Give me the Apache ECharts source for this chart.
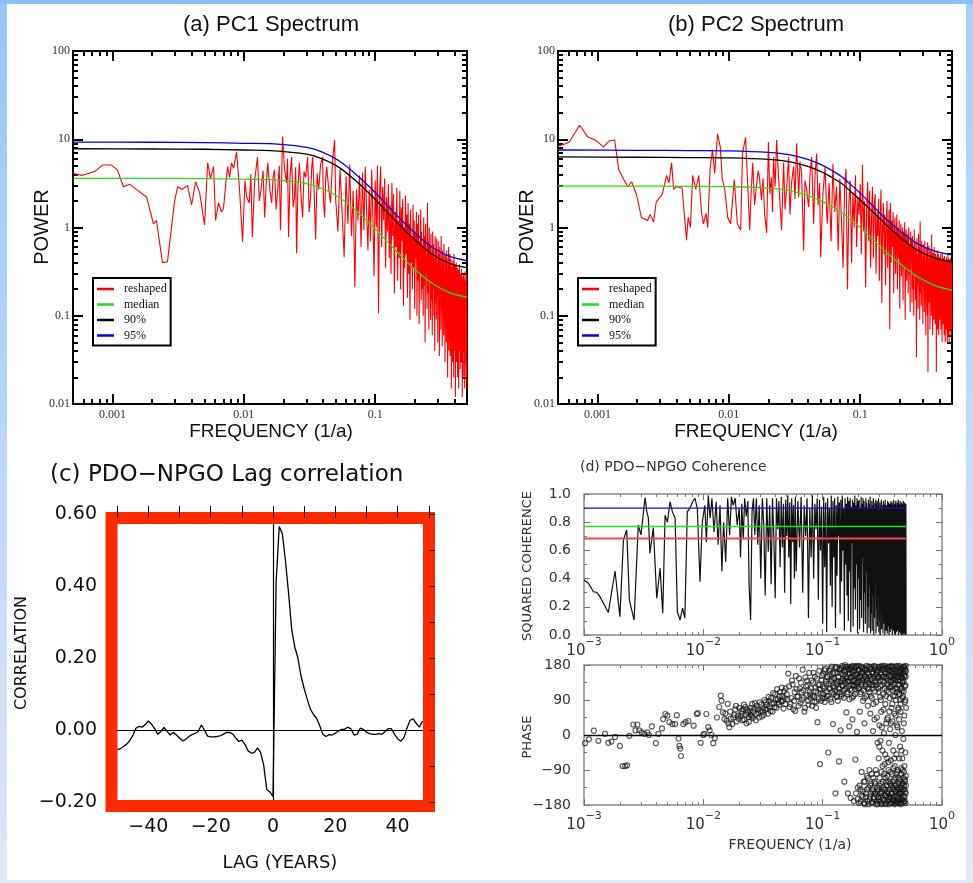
<!DOCTYPE html>
<html><head><meta charset="utf-8">
<script src="https://cdn.jsdelivr.net/npm/echarts@6/dist/echarts.min.js"></script>
<style>html,body{margin:0;padding:0;background:#fff}#c{width:973px;height:883px}</style>
</head><body><div id="c"></div>
<script>
// ---------------- DATA ----------------
// (a) PC1 spectrum: low-frequency part as [frequency, power]
const pc1Low = [[0.0005,4.1],[0.00059,3.9],[0.00073,4.3],[0.00084,5.1],[0.00098,5.1],[0.00109,4.5],[0.00121,2.9],[0.00135,3.1],[0.00152,2.7],[0.00182,2.2],[0.00205,1.1],[0.00216,1.2],[0.0024,0.40],[0.00262,0.41],[0.00297,2.0],[0.00313,2.9],[0.00341,2.7],[0.00372,3.0],[0.004,1.8],[0.00429,3.3],[0.0046,2.5],[0.00502,1.07],[0.0053,5.4],[0.00557,3.6],[0.00588,4.9],[0.00609,1.2],[0.00641,1.9],[0.00676,1.5],[0.007,1.65],[0.00726,3.0],[0.00752,4.9],[0.00778,3.7],[0.00806,5.4],[0.00835,4.7],[0.0088,7.2],[0.00927,2.7],[0.00977,0.69],[0.0102,3.4],[0.0105,2.2],[0.011,1.9],[0.0113,4.0],[0.0116,0.78],[0.0121,3.5],[0.0127,6.3],[0.0131,2.0],[0.0136,2.9],[0.0140,4.4],[0.0144,1.3],[0.0148,3.1],[0.0152,5.4],[0.0158,2.6],[0.0163,1.9],[0.0167,3.8],[0.0171,4.5],[0.0176,1.6],[0.0181,2.7],[0.0186,5.0],[0.019,0.93],[0.0197,10.7],[0.0204,4.6],[0.0211,3.2],[0.0215,6.0],[0.0219,0.78],[0.0225,3.9],[0.0231,6.3],[0.0237,1.7],[0.0243,2.2],[0.0248,4.8],[0.0252,0.51],[0.0258,2.9],[0.0265,5.4],[0.0272,2.4],[0.028,1.3],[0.0287,4.3],[0.0295,3.7],[0.0306,6.3],[0.0314,1.5],[0.0322,2.2],[0.0328,4.6],[0.0334,6.3],[0.0343,2.5],[0.0352,0.73],[0.0361,4.1],[0.0371,2.7],[0.0384,5.2],[0.0397,6.3],[0.0404,2.0],[0.0412,1.3],[0.042,3.6],[0.0427,4.9],[0.0442,2.8],[0.0457,1.9],[0.0474,5.8],[0.0491,9.8]];
// high-frequency part on the uniform frequency grid hfStart + i*hfStep
const hfStart = 0.05, hfStep = 0.002;
const pc1High = [2.1,0.9,4.6,1.5,0.46,3.8,1.1,5.2,0.8,2.6,
0.21,2.7,1.2,3.9,0.6,4.2,0.93,4.9,1.6,0.55,
2.7,0.7,4.5,1.3,0.28,3.4,1.0,5.0,0.107,2.4,
4.9,0.6,2.9,1.2,3.6,0.35,2.2,0.9,3.1,0.45,
1.8,0.3,3.2,0.8,2.4,0.18,1.5,0.6,2.8,0.25,
1.2,0.45,2.6,0.2,1.7,0.7,2.1,0.13,1.0,0.35,
2.3,0.5,1.4,0.16,1.9,0.3,1.1,0.09,1.6,0.4,
0.8,0.2,1.8,0.35,1.2,0.12,0.9,0.45,1.5,0.1,
1.1,0.25,1.4,0.08,0.7,0.3,1.6,0.15,0.9,0.2,
0.6,0.1,1.3,0.22,0.8,0.05,1.1,0.3,0.5,0.12,
1.9,0.18,0.7,0.07,1.0,0.25,0.6,0.09,0.85,0.15,
0.5,0.06,0.9,0.2,0.65,0.1,0.45,0.04,0.8,0.14,
0.55,0.09,0.75,0.17,0.4,0.05,0.7,0.12,0.5,0.035,
0.6,0.15,0.45,0.07,0.8,0.1,0.35,0.045,0.55,0.13,
0.4,0.06,0.65,0.11,0.3,0.03,0.5,0.09,0.42,0.05,
0.55,0.12,0.3,0.02,0.45,0.08,0.6,0.04,0.33,0.1,
0.5,0.035,0.28,0.07,0.44,0.015,0.36,0.09,0.25,0.03,
0.42,0.06,0.3,0.02,0.5,0.08,0.24,0.04,0.38,0.012,
0.3,0.07,0.4,0.03,0.22,0.06,0.35,0.02,0.27,0.05,
0.33,0.015,0.25,0.07,0.38,0.04,0.2,0.025,0.3,0.06,
0.22,0.03,0.34,0.05,0.18,0.012,0.28,0.07,0.24,0.02,
0.3,0.04,0.2,0.06,0.26,0.015,0.32,0.05,0.19,0.03,
0.25,0.02,0.3,0.06,0.22,0.015];
const pc1CurveFreq = [0.0005,0.002,0.005,0.01,0.016,0.03,0.04,0.053,0.07,0.095,0.13,0.19,0.27,0.37,0.5];
const pc1Median = [3.6,3.6,3.58,3.53,3.48,3.15,2.75,2.2,1.6,1.04,0.64,0.36,0.235,0.182,0.163];
const pc1P90 = [7.8,7.75,7.7,7.55,7.45,6.8,5.95,4.8,3.45,2.25,1.38,0.78,0.5,0.39,0.35];
const pc1P95 = [9.3,9.25,9.15,9.0,8.9,8.1,7.1,5.7,4.1,2.7,1.65,0.93,0.6,0.47,0.42];

// (b) PC2 spectrum
const pc2Low = [[0.0005,8.4],[0.00056,8.8],[0.00061,9.3],[0.00073,14.4],[0.00084,10.7],[0.00098,9.6],[0.00111,8.2],[0.00123,9.6],[0.00135,9.8],[0.00145,4.5],[0.00155,3.7],[0.0017,2.9],[0.00182,3.3],[0.00198,2.35],[0.00216,1.3],[0.0024,1.2],[0.00252,1.4],[0.00267,1.15],[0.0028,1.95],[0.0031,2.35],[0.00336,3.9],[0.0035,3.2],[0.00366,5.4],[0.0038,2.7],[0.004,2.9],[0.0044,2.8],[0.00476,0.72],[0.0049,1.3],[0.0051,1.0],[0.0053,3.9],[0.0056,2.7],[0.0059,3.9],[0.0062,1.45],[0.0064,1.1],[0.0067,1.45],[0.0069,1.0],[0.0072,4.7],[0.0075,7.6],[0.0078,4.1],[0.0082,11.5],[0.0086,8.2],[0.0089,3.6],[0.0093,2.7],[0.0098,1.3],[0.0103,1.1],[0.011,3.5],[0.0116,1.1],[0.0123,0.93],[0.0127,6.9],[0.0134,10.5],[0.0139,3.2],[0.0144,0.93],[0.0148,2.6],[0.0152,5.4],[0.0157,1.8],[0.0163,3.2],[0.0167,4.4],[0.0171,3.7],[0.0177,2.05],[0.0182,3.6],[0.0187,1.45],[0.0194,0.87],[0.02,9.3],[0.0205,2.4],[0.0211,3.7],[0.0215,1.5],[0.0219,6.3],[0.0225,2.9],[0.0231,9.8],[0.0239,3.7],[0.0245,1.9],[0.0252,0.93],[0.0261,5.4],[0.0268,1.6],[0.0275,2.7],[0.0285,6.3],[0.0292,1.4],[0.03,3.2],[0.0311,4.9],[0.0319,2.1],[0.0328,9.0],[0.034,2.2],[0.0348,5.6],[0.0358,4.1],[0.0371,0.55],[0.038,3.4],[0.0391,2.7],[0.0405,1.7],[0.0416,4.3],[0.0427,6.3],[0.0442,1.1],[0.0453,3.9],[0.0466,6.9],[0.0478,1.8],[0.0491,3.2]];
const pc2High = [0.46,2.4,4.8,1.1,3.2,0.7,5.3,1.5,2.9,0.55,
3.6,1.2,0.35,2.8,4.6,0.2,1.9,3.4,0.4,2.5,
1.0,3.9,0.6,2.2,1.4,3.1,0.5,5.1,0.9,2.0,
0.21,1.7,3.3,0.7,2.6,0.35,1.3,2.9,0.45,1.8,
2.4,0.3,1.5,0.8,2.1,0.25,1.2,2.7,0.14,1.0,
1.9,0.5,1.4,0.22,1.1,2.0,0.35,0.9,1.6,0.07,
1.9,0.4,1.2,0.6,1.5,0.18,0.9,1.3,0.3,0.75,
1.4,0.2,1.0,0.45,1.2,0.12,0.8,1.1,0.28,0.65,
1.0,0.15,0.9,0.35,1.15,0.09,0.7,0.95,0.25,0.6,
0.85,0.18,1.0,0.3,0.65,0.11,0.9,0.4,0.75,0.14,
0.8,0.2,0.6,0.1,0.95,0.3,0.7,0.15,0.55,0.034,
0.75,0.22,0.5,0.12,0.85,0.28,0.6,0.09,1.17,0.18,
0.55,0.13,0.7,0.25,0.45,0.08,0.65,0.2,0.5,0.11,
0.7,0.16,0.42,0.06,0.6,0.22,0.5,0.1,0.68,0.023,
0.45,0.14,0.62,0.2,0.38,0.07,0.55,0.17,0.48,0.1,
0.83,0.15,0.4,0.06,0.52,0.19,0.44,0.09,0.6,0.13,
0.4,0.08,0.5,0.16,0.35,0.023,0.47,0.12,0.55,0.07,
0.42,0.14,0.5,0.06,0.38,0.18,0.46,0.09,0.33,0.11,
0.5,0.07,0.36,0.15,0.44,0.05,0.52,0.12,0.34,0.08,
0.45,0.1,0.38,0.06,0.48,0.14,0.32,0.05,0.42,0.11,
0.36,0.07,0.46,0.13,0.3,0.05,0.4,0.09,0.5,0.06,
0.34,0.12,0.44,0.05,0.38,0.1,0.3,0.07,0.45,0.08,
0.36,0.06,0.42,0.1,0.33,0.07];
const pc2CurveFreq = [0.0005,0.002,0.005,0.01,0.02,0.03,0.047,0.07,0.086,0.1,0.153,0.2,0.27,0.37,0.5];
const pc2Median = [2.95,2.95,2.93,2.9,2.8,2.6,2.1,1.53,1.2,1.0,0.55,0.39,0.28,0.22,0.195];
const pc2P90 = [6.3,6.25,6.2,6.15,5.9,5.5,4.5,3.25,2.5,2.05,1.12,0.78,0.56,0.45,0.41];
const pc2P95 = [7.55,7.5,7.45,7.4,7.1,6.6,5.4,3.9,3.0,2.45,1.3,0.92,0.66,0.54,0.49];

// (c) PDO-NPGO lag correlation, lags lagStart .. 48 (years)
const lagStart = -50;
const lagCorr = [-0.055,-0.052,-0.046,-0.040,-0.030,-0.015,0.005,0.010,0.008,0.015,
0.025,0.016,0.004,-0.012,-0.004,0.007,-0.003,-0.014,-0.006,-0.014,
-0.022,-0.030,-0.026,-0.018,-0.013,-0.009,-0.004,0.014,0.000,-0.017,
-0.019,-0.019,-0.018,-0.016,-0.012,-0.007,-0.007,-0.010,-0.022,-0.032,
-0.028,-0.040,-0.058,-0.064,-0.063,-0.050,-0.062,-0.097,-0.165,-0.172,
-0.185,0.41,0.565,0.545,0.47,0.38,0.28,0.23,0.20,0.15,
0.115,0.085,0.058,0.043,0.032,0.012,-0.012,-0.018,-0.013,-0.014,
-0.009,-0.003,0.002,0.002,0.008,0.003,-0.014,-0.012,0.005,0.002,
-0.006,-0.010,-0.012,-0.012,-0.010,-0.012,-0.004,0.004,0.004,-0.012,
-0.024,-0.031,-0.022,0.005,0.027,0.031,0.018,0.008,0.025];

// (d) squared coherence
const cohLow = [[0.001,0.39],[0.00109,0.367],[0.0012,0.307],[0.00128,0.302],[0.00136,0.272],[0.0016,0.16],[0.00182,0.454],[0.002,0.13],[0.00214,0.674],[0.00228,0.745],[0.0024,0.248],[0.00263,0.106],[0.00285,0.78],[0.003,0.71],[0.0031,0.71],[0.00325,0.974],[0.00336,0.875],[0.00346,0.83],[0.00357,0.58],[0.00381,0.76],[0.00407,0.26],[0.00434,0.475],[0.00457,0.155],[0.00478,0.85],[0.005,0.80],[0.00526,0.945],[0.0055,0.875],[0.0058,0.83],[0.00606,0.165],[0.00638,0.106],[0.0067,0.19],[0.007,0.12],[0.00734,0.875],[0.00773,0.9],[0.00815,0.945],[0.0085,0.97],[0.0089,0.9],[0.00938,0.378],[0.0098,0.80],[0.0103,0.92],[0.0106,0.66],[0.011,0.99],[0.0114,0.83],[0.0118,0.97],[0.0123,0.73],[0.0128,0.945],[0.0133,0.64],[0.0138,0.92],[0.0143,0.45],[0.0148,0.80],[0.0154,0.52],[0.016,0.97],[0.0166,0.71],[0.0172,0.98],[0.0178,0.92],[0.0185,0.97],[0.0192,0.78],[0.02,0.90],[0.0205,0.55],[0.021,0.93],[0.0216,0.68],[0.0222,0.97],[0.0229,0.84],[0.0236,0.95],[0.0242,0.35],[0.0249,0.106],[0.0256,0.875],[0.0263,0.97],[0.027,0.71],[0.0278,0.97],[0.0286,0.64],[0.0294,0.92],[0.0303,0.40],[0.0312,0.97],[0.0321,0.78],[0.033,0.28],[0.034,0.97],[0.035,0.59],[0.036,0.92],[0.037,0.36],[0.038,0.97],[0.039,0.69],[0.04,0.26],[0.041,0.97],[0.042,0.75],[0.043,0.95],[0.044,0.48],[0.045,0.98],[0.046,0.62],[0.047,0.93],[0.048,0.30],[0.049,0.96],[0.05,0.70],[0.051,0.99],[0.052,0.55],[0.053,0.94],[0.054,0.22],[0.055,0.97],[0.056,0.66],[0.057,0.92],[0.058,0.40],[0.059,0.98]];
const cohStart = 0.06, cohStep = 0.002;
const cohHigh = [0.45,0.95,0.62,0.98,0.3,0.92,0.7,0.97,0.12,0.9,
0.55,0.99,0.4,0.93,0.75,0.97,0.25,0.96,0.6,0.91,
0.08,0.98,0.48,0.94,0.02,0.97,0.65,0.9,0.35,0.99,
0.2,0.95,0.55,0.97,0.05,0.92,0.42,0.98,0.7,0.94,
0.15,0.96,0.38,0.99,0.6,0.9,0.03,0.97,0.5,0.93,
0.28,0.98,0.1,0.95,0.45,0.97,0.02,0.91,0.65,0.96,
0.06,0.94,0.33,0.99,0.18,0.92,0.5,0.97,0.01,0.95,
0.4,0.96,0.04,0.9,0.25,0.98,0.12,0.93,0.55,0.97,
0.02,0.95,0.3,0.91,0.08,0.97,0.45,0.94,0.01,0.9,
0.2,0.96,0.05,0.93,0.35,0.98,0.01,0.9,0.15,0.95,
0.03,0.92,0.28,0.97,0.0,0.94,0.12,0.9,0.4,0.96,
0.01,0.93,0.18,0.95,0.06,0.91,0.3,0.97,0.02,0.89,
0.1,0.94,0.0,0.9,0.22,0.96,0.04,0.92,0.14,0.88,
0.01,0.95,0.08,0.91,0.25,0.93,0.0,0.96,0.12,0.9,
0.03,0.92,0.18,0.88,0.01,0.95,0.06,0.9,0.2,0.94,
0.0,0.91,0.1,0.93,0.02,0.89,0.15,0.95,0.04,0.9,
0.08,0.94,0.0,0.92,0.12,0.88,0.03,0.96,0.18,0.91,
0.01,0.93,0.07,0.9,0.0,0.95,0.1,0.89,0.02,0.92,
0.14,0.94,0.03,0.91,0.06,0.96,0.0,0.88,0.09,0.93,
0.02,0.9,0.11,0.95,0.01,0.92,0.05,0.89,0.0,0.94,
0.07,0.91,0.0,0.93,0.04,0.88,0.01,0.95,0.06,0.9,
0.0,0.92,0.03,0.94,0.01,0.89,0.05,0.91,0.0,0.93,
0.02];
const sigLevels = [0.9, 0.77, 0.685];          // blue, green, red
const sigColors = ['#1010d8', '#22e022', '#f04848'];
const sigRange = [0.001, 0.5];

// (d) phase
const phaseLow = [[0.00102,-21],[0.0011,-11],[0.00121,11],[0.00132,-15],[0.0015,3],[0.0016,-20],[0.0017,-17],[0.00182,-5],[0.002,-28],[0.00211,-80],[0.00221,-80],[0.0023,-78],[0.0024,-2],[0.00259,27],[0.0027,12],[0.0028,27],[0.0029,12],[0.00305,7],[0.0032,3],[0.0034,7],[0.0035,0],[0.0037,22],[0.004,-21],[0.0042,3],[0.0045,17],[0.0046,41],[0.0048,54],[0.005,50],[0.0052,33],[0.0055,28],[0.0058,28],[0.006,51],[0.0062,-9],[0.0063,-28],[0.0064,-35],[0.0065,-54],[0.0068,28],[0.0071,33],[0.0075,36],[0.0083,24],[0.0088,54],[0.009,56],[0.0095,-20],[0.01,0],[0.0102,3],[0.0106,54],[0.011,20],[0.0113,12],[0.0117,0],[0.0121,-21],[0.0125,-8],[0.013,45],[0.0136,72],[0.014,101],[0.0142,88],[0.0146,58],[0.015,41],[0.0157,37],[0.016,80],[0.0165,20],[0.017,42],[0.0178,45],[0.0185,66],[0.019,35],[0.0195,50],[0.02,70],[0.0205,48],[0.021,55],[0.0216,66],[0.022,40],[0.0225,72],[0.023,30],[0.0236,58],[0.024,46],[0.0245,62],[0.025,52],[0.0256,80],[0.026,44],[0.0268,68],[0.0275,38],[0.028,75],[0.029,57],[0.0296,84],[0.03,62],[0.031,48],[0.0318,70],[0.0325,90],[0.033,65],[0.034,78],[0.0348,55],[0.0355,88],[0.036,72],[0.037,95],[0.038,60],[0.039,82],[0.04,105],[0.041,70],[0.042,92],[0.043,78],[0.044,110],[0.045,86],[0.046,100],[0.047,68],[0.048,95],[0.049,120]];
const phaseMid = [[0.0153,55],[0.0162,30],[0.0168,60],[0.0175,28],[0.0182,52],[0.0188,75],[0.0198,42],[0.0208,62],[0.0213,38],[0.0219,78],[0.0228,52],[0.0233,65],[0.0241,34],[0.0249,70],[0.0253,48],[0.0262,60],[0.0271,82],[0.0278,54],[0.0285,66],[0.0293,45],[0.0305,78],[0.0313,60],[0.0322,52],[0.0335,85],[0.0342,68],[0.0352,98],[0.0365,62],[0.0375,80],[0.0385,108],[0.0395,72],[0.0405,90],[0.0415,118],[0.0425,84],[0.0435,100],[0.0455,122],[0.0465,88],[0.0475,112],[0.0485,80]];
const phStart = 0.05, phStep = 0.0015;
const phaseHigh = [105,158,72,95,130,88,62,118,100,145,
82,110,168,96,70,125,140,88,160,104,
120,75,135,98,150,112,86,33,128,165,
-75,108,142,95,158,120,85,170,132,100,
150,-45,118,165,92,138,176,110,28,145,
122,160,-150,100,172,135,88,150,-68,118,
168,12,140,105,178,126,155,96,-120,162,
132,175,58,145,110,-150,170,138,22,158,
118,-162,150,176,96,40,165,128,-170,142,
172,105,-63,155,135,178,8,148,-135,120,
165,-175,138,60,152,-140,110,176,-95,130,
158,-160,88,145,-120,172,30,-178,125,150,
-150,168,100,-105,140,-170,75,160,-135,118,
176,-90,132,-158,55,150,-125,170,-175,95,
145,-140,162,10,-110,128,-165,178,40,-150,
112,-125,155,-178,85,138,-100,168,-145,-20,
150,-160,120,-60,175,-130,25,140,-170,98,
-15,160,-150,60,-95,178,-175,128,-40,150,
-120,105,-165,170,5,-140,135,-75,162,-178,
80,-110,148,-155,30,172,-130,115,-60,158,
-170,45,-145,140,-90,176,-20,122,-160,95,
165,-125,15,-175,138,-65,150,-150,70,178,
-100,125,-168,35,160,-135,100,-40,170,-158,
142,-115,55,-178,152,-80,118,-145,0,168,
-130,90,-170,145,-50,175,-155,110,-95,20,
160,-140,130,-175,65,-110,150,-160,40,178,
-120,105,-150,165,-30,138,-178,80,-135,155,
-85,172,-165,120,10,-145,148,-60,95,-175,
135,-125,168,-10,-158,112,-95,176,-140,50,
150,-170,85,-115,162,-45,128,-150,178,-130,
70];
// second set of phase estimates, on the half-step offset grid phStartB + i*phStep
const phStartB = 0.05075;
const phaseHighB = [92,125,80,140,66,110,152,98,75,120,
135,90,115,60,148,102,128,78,112,95,
140,100,160,85,122,70,145,108,92,130,
118,88,152,125,105,166,95,138,112,150,
100,132,155,120,170,85,142,160,125,105,
145,115,175,130,98,160,138,120,170,110,
135,158,100,172,128,145,115,165,140,180,
120,150,168,105,138,176,125,155,92,170,
148,130,172,115,160,138,178,100,152,128,
165,140,118,-150,175,125,155,-165,135,170,
120,178,-130,150,105,-170,160,135,-155,172,
140,-145,165,115,-175,150,95,-120,168,130,
-160,145,178,-140,120,160,-110,135,-178,155,
110,-165,170,-130,142,100,-150,175,-100,128,
-172,158,120,-145,80,-160,150,-120,170,135,
-150,175,-90,128,-170,160,45,-135,145,-178,
165,-140,110,-165,150,-30,-110,172,-150,125,
-160,90,-125,155,-178,20,-145,168,-80,140,
175,-135,65,-170,150,-100,120,-155,178,-50,
-140,160,-175,100,-120,145,-160,40,170,-105,
130,-150,165,-70,110,-178,152,-120,60,-165,
-140,175,-95,125,-160,30,-130,162,-175,140,
155,-150,80,-120,175,-165,115,-85,145,-140,
-170,130,-60,160,-130,100,-175,140,-110,50,
165,-145,120,-100,178,-160,25,-135,150,-175,
-90,140,-165,70,-125,172,-150,105,-60,160,
130,-170,90,-115,155,-140,60,-175,120,-100,
-150,148,-40,170,-125,115,-165,135,-90,160,
100,-140,175,-110,140,-170,30,-130,155,-80,
-160,125,-120,170,-145,90,-175,150,-105,165];

// tick labels
const specXLabels = {'-3':'0.001','-2':'0.01','-1':'0.1'};
const specYLabels = {'2':'100','1':'10','0':'1','-1':'0.1','-2':'0.01'};

// ---------------- BUILD ----------------
const L = Math.log10;
function minorLogs(n0, n1, lo, hi){const o=[];for(let n=n0;n<=n1;n++)for(let k=2;k<=9;k++){const v=L(k*Math.pow(10,n));if(v>lo+1e-6&&v<hi-1e-6)o.push(v);}return o;}
const xAxis=[], yAxis=[], series=[];
const noLine = {show:false, onZero:false};
function addAxes(arr, gi, o){
  const first = arr.length;
  const base = {type:'value', gridIndex:gi, min:o.min, max:o.max, splitLine:{show:false}, z:o.z||0, silent:true};
  arr.push(Object.assign({}, base, {position:o.labelSide, offset:o.labelOffset||0, axisLine:noLine, axisTick:{show:false},
    axisLabel: o.labels ? Object.assign({show:true, customValues:o.labels, formatter:o.fmt}, o.labelStyle) : {show:false}}));
  (o.tickSides||[]).forEach(s=>{
    if (o.major) arr.push(Object.assign({}, base, {position:s.side, offset:s.offset||0, axisLine:noLine, axisLabel:{show:false},
      axisTick:{show:true, inside:true, length:s.len||o.majorLen, customValues:o.major, lineStyle:{color:o.tickColor,width:o.tickWidth}}}));
    if (o.minor) arr.push(Object.assign({}, base, {position:s.side, offset:s.offset||0, axisLine:noLine, axisLabel:{show:false},
      axisTick:{show:true, inside:true, length:o.minorLen, customValues:o.minor, lineStyle:{color:o.tickColor,width:o.tickWidth}}}));
  });
  return first;
}
const grid = [
  {left:73, top:51, width:394, height:353},
  {left:558, top:51, width:394, height:353},
  {left:111, top:514, width:324, height:288},
  {left:584, top:494, width:358, height:141},
  {left:584, top:665, width:358, height:140}
].map((g,i)=>Object.assign(g,{containLabel:false, outerBoundsMode:'none', show: i!==2,
   borderColor: i<2 ? '#000' : '#8a8a8a', borderWidth: i<2 ? 2 : 1.5, backgroundColor:'transparent'}));

const specLabelStyle = {fontFamily:'Liberation Serif', fontSize:12, color:'#333'};
const spectra = [
  {gi:0, low:pc1Low, high:pc1High, cf:pc1CurveFreq, med:pc1Median, p90:pc1P90, p95:pc1P95},
  {gi:1, low:pc2Low, high:pc2High, cf:pc2CurveFreq, med:pc2Median, p90:pc2P90, p95:pc2P95}
];
spectra.forEach(sp=>{
  const xi = addAxes(xAxis, sp.gi, {min:L(0.0005), max:L(0.5), labelSide:'bottom', labels:[-3,-2,-1],
    fmt:v=>specXLabels[String(Math.round(v))], labelStyle:Object.assign({margin:5}, specLabelStyle),
    major:[-3,-2,-1], minor:minorLogs(-4,-1,L(0.0005),L(0.5)), majorLen:10, minorLen:5, tickColor:'#000', tickWidth:2,
    tickSides:[{side:'bottom'},{side:'top'}]});
  const yi = addAxes(yAxis, sp.gi, {min:-2, max:2, labelSide:'left', labels:[-2,-1,0,1,2],
    fmt:v=>specYLabels[String(Math.round(v))], labelStyle:Object.assign({margin:3}, specLabelStyle),
    major:[-2,-1,0,1,2], minor:minorLogs(-2,1,-2,2), majorLen:10, minorLen:5, tickColor:'#000', tickWidth:2,
    tickSides:[{side:'left'},{side:'right'}]});
  const red = sp.low.map(d=>[L(d[0]),L(d[1])]).concat(sp.high.map((p,i)=>[L(hfStart+i*hfStep),L(p)]));
  series.push({name:'reshaped', type:'line', xAxisIndex:xi, yAxisIndex:yi, data:red, showSymbol:false, symbol:'none',
    lineStyle:{color:'#ff0000', width:1.1}, itemStyle:{color:'#ff0000'}, z:2, silent:true});
  [['median',sp.med,'#22dd22'],['90%',sp.p90,'#000000'],['95%',sp.p95,'#0000ee']].forEach(c=>{
    series.push({name:c[0], type:'line', xAxisIndex:xi, yAxisIndex:yi, smooth:0.3, showSymbol:false, symbol:'none',
      data:sp.cf.map((f,i)=>[L(f),L(c[1][i])]), lineStyle:{color:c[2], width:1.3}, itemStyle:{color:c[2]}, z:3, silent:true});
  });
});

// (c)
const cLabel = {fontFamily:'DejaVu Sans', fontSize:19, color:'#111'};
const fmtSigned = (v,d)=> (v<0?'\u2212':'') + Math.abs(v).toFixed(d);
const cxi = addAxes(xAxis, 2, {min:-52, max:52, labelSide:'bottom', labels:[-40,-20,0,20,40],
  fmt:v=>fmtSigned(Math.round(v),0), labelStyle:Object.assign({margin:16}, cLabel),
  major:[-50,-40,-30,-20,-10,0,10,20,30,40,50], majorLen:12, tickColor:'#000', tickWidth:1, z:20,
  tickSides:[{side:'top', offset:8}]});
const cyi = addAxes(yAxis, 2, {min:-0.2, max:0.6, labelSide:'left', labels:[-0.2,0,0.2,0.4,0.6],
  fmt:v=>fmtSigned(v,2), labelStyle:Object.assign({margin:14}, cLabel),
  major:[-0.2,-0.1,0,0.1,0.2,0.3,0.4,0.5,0.6], majorLen:6, tickColor:'#000', tickWidth:1, z:20,
  tickSides:[{side:'right'}]});
series.push({name:'lagcorr', type:'line', xAxisIndex:cxi, yAxisIndex:cyi, showSymbol:false, symbol:'none',
  data:lagCorr.map((v,i)=>[lagStart+i, v]), lineStyle:{color:'#000', width:1.3}, z:2, silent:true,
  markLine:{silent:true, symbol:'none', label:{show:false}, lineStyle:{color:'#000', width:1.2, type:'solid'},
    data:[{yAxis:0},{xAxis:0}]}});

// (d)
const dLabel = {fontFamily:'DejaVu Sans', fontSize:14, color:'#333'};
const supFmt = v=>{const e=Math.round(v); return '{b|10}{s|'+(e<0?'\u2212'+(-e):e)+'}';};
const supRich = {b:{fontFamily:'DejaVu Sans', fontSize:15, color:'#333', lineHeight:22, verticalAlign:'bottom'},
                 s:{fontFamily:'DejaVu Sans', fontSize:11, color:'#333', lineHeight:22, verticalAlign:'top'}};
[3,4].forEach(gi=>{
  const xi = addAxes(xAxis, gi, {min:-3, max:0, labelSide:'bottom', labels:[-3,-2,-1,0], fmt:supFmt,
    labelStyle:{margin: gi===3?2:6, rich:supRich},
    major:[-3,-2,-1,0], minor:minorLogs(-3,-1,-3,0), majorLen:6, minorLen:3, tickColor:'#777', tickWidth:1,
    tickSides:[{side:'bottom'},{side:'top'}]});
  let yi;
  if (gi===3) {
    yi = addAxes(yAxis, gi, {min:0, max:1, labelSide:'left', labels:[0,0.2,0.4,0.6,0.8,1.0], fmt:v=>v.toFixed(1),
      labelStyle:Object.assign({margin:13}, dLabel), major:[0,0.2,0.4,0.6,0.8,1.0], minor:[0.1,0.3,0.5,0.7,0.9],
      majorLen:6, minorLen:3, tickColor:'#777', tickWidth:1, tickSides:[{side:'left'},{side:'right'}]});
    series.push({name:'coherence', type:'line', xAxisIndex:xi, yAxisIndex:yi, showSymbol:false, symbol:'none', silent:true,
      data:cohLow.map(d=>[L(d[0]),d[1]]).concat(cohHigh.map((c,i)=>[L(cohStart+i*cohStep),c])),
      lineStyle:{color:'#111', width:1.2}, z:2});
    sigLevels.forEach((lv,k)=>series.push({name:'sig'+k, type:'line', xAxisIndex:xi, yAxisIndex:yi, showSymbol:false, symbol:'none', silent:true,
      data:sigRange.map(f=>[L(f),lv]), lineStyle:{color:sigColors[k], width:k===2?2:1.4}, z:4}));
  } else {
    yi = addAxes(yAxis, gi, {min:-180, max:180, labelSide:'left', labels:[-180,-90,0,90,180], fmt:v=>fmtSigned(Math.round(v),0),
      labelStyle:Object.assign({margin:13}, dLabel), major:[-180,-90,0,90,180], minor:[-135,-45,45,135],
      majorLen:6, minorLen:3, tickColor:'#777', tickWidth:1, tickSides:[{side:'left'},{side:'right'}]});
    const phData = phaseLow.concat(phaseMid).map(d=>[L(d[0]),d[1]])
      .concat(phaseHigh.map((p,i)=>[L(phStart+i*phStep),p]))
      .concat(phaseHighB.map((p,i)=>[L(phStartB+i*phStep),p]));
    series.push({name:'phase', type:'scatter', xAxisIndex:xi, yAxisIndex:yi, symbol:'circle', symbolSize:5, silent:true,
      data:phData, large:false,
      itemStyle:{color:'rgba(0,0,0,0)', borderColor:'rgba(20,20,20,0.85)', borderWidth:1.2}, z:2,
      markLine:{silent:true, symbol:'none', label:{show:false}, lineStyle:{color:'#000', width:1.4, type:'solid'}, data:[{yAxis:0}]}});
  }
});

// text helpers
function txt(text, x, y, font, opts){ opts=opts||{}; return {type:'text', x:x, y:y, rotation:opts.rot||0, z:30, silent:true,
  style:{text:text, font:font, fill:opts.fill||'#111', textAlign:opts.align||'center', align:opts.align||'center',
         textVerticalAlign:'middle', verticalAlign:'middle'}}; }
const grad = (c1,c2)=>({type:'linear', x:0, y:0, x2:0, y2:1, colorStops:[{offset:0,color:c1},{offset:1,color:c2}]});
const graphic = [
  {type:'rect', shape:{x:0,y:0,width:7,height:883}, style:{fill:grad('#98c6f6','#dfe7f7')}, z:1, silent:true},
  {type:'rect', shape:{x:966,y:0,width:7,height:883}, style:{fill:grad('#a6d0f9','#e2e9f8')}, z:1, silent:true},
  {type:'rect', shape:{x:0,y:0,width:973,height:4}, style:{fill:'#8cbff7'}, z:1, silent:true},
  {type:'rect', shape:{x:0,y:880,width:973,height:3}, style:{fill:'#e3e8f5'}, z:1, silent:true},
  {type:'rect', shape:{x:111.5,y:518,width:317.5,height:288}, style:{fill:'none', stroke:'#ff2a00', lineWidth:12}, z:10, silent:true},
  txt('(a) PC1 Spectrum', 271, 25, '22px "Liberation Sans"'),
  txt('(b) PC2 Spectrum', 756, 25, '22px "Liberation Sans"'),
  txt('POWER', 42, 227, '20px "Liberation Sans"', {rot:Math.PI/2}),
  txt('POWER', 527, 227, '20px "Liberation Sans"', {rot:Math.PI/2}),
  txt('FREQUENCY (1/a)', 271, 432, '19px "Liberation Sans"'),
  txt('FREQUENCY (1/a)', 756, 432, '19px "Liberation Sans"'),
  txt('(c) PDO\u2212NPGO Lag correlation', 50, 475, '23px "DejaVu Sans"', {align:'left'}),
  txt('CORRELATION', 22, 653, '16px "DejaVu Sans"', {rot:Math.PI/2}),
  txt('LAG (YEARS)', 280, 863, '18px "DejaVu Sans"'),
  txt('(d) PDO\u2212NPGO Coherence', 580, 467, '14px "DejaVu Sans"', {align:'left', fill:'#333'}),
  txt('SQUARED COHERENCE', 528, 566, '13px "DejaVu Sans"', {rot:Math.PI/2, fill:'#333'}),
  txt('PHASE', 528, 737, '13px "DejaVu Sans"', {rot:Math.PI/2, fill:'#333'}),
  txt('FREQUENCY (1/a)', 790, 845, '14px "DejaVu Sans"', {fill:'#333'})
];

const legendBase = {orient:'vertical', selectedMode:false, backgroundColor:'#fff', borderColor:'#000', borderWidth:2,
  padding:[5,4,4,4], itemGap:3.5, itemWidth:17, itemHeight:2.5, icon:'rect', z:8,
  textStyle:{fontFamily:'Liberation Serif', fontSize:12, color:'#111', lineHeight:12, padding:[0,0,0,5]},
  data:['reshaped','median','90%','95%']};

const chart = echarts.init(document.getElementById('c'), null, {renderer:'canvas'});
chart.setOption({
  animation:false, backgroundColor:'#fff',
  grid:grid, xAxis:xAxis, yAxis:yAxis, series:series, graphic:graphic,
  legend:[Object.assign({left:93, top:278}, legendBase), Object.assign({left:578, top:278}, legendBase)]
});
</script></body></html>
